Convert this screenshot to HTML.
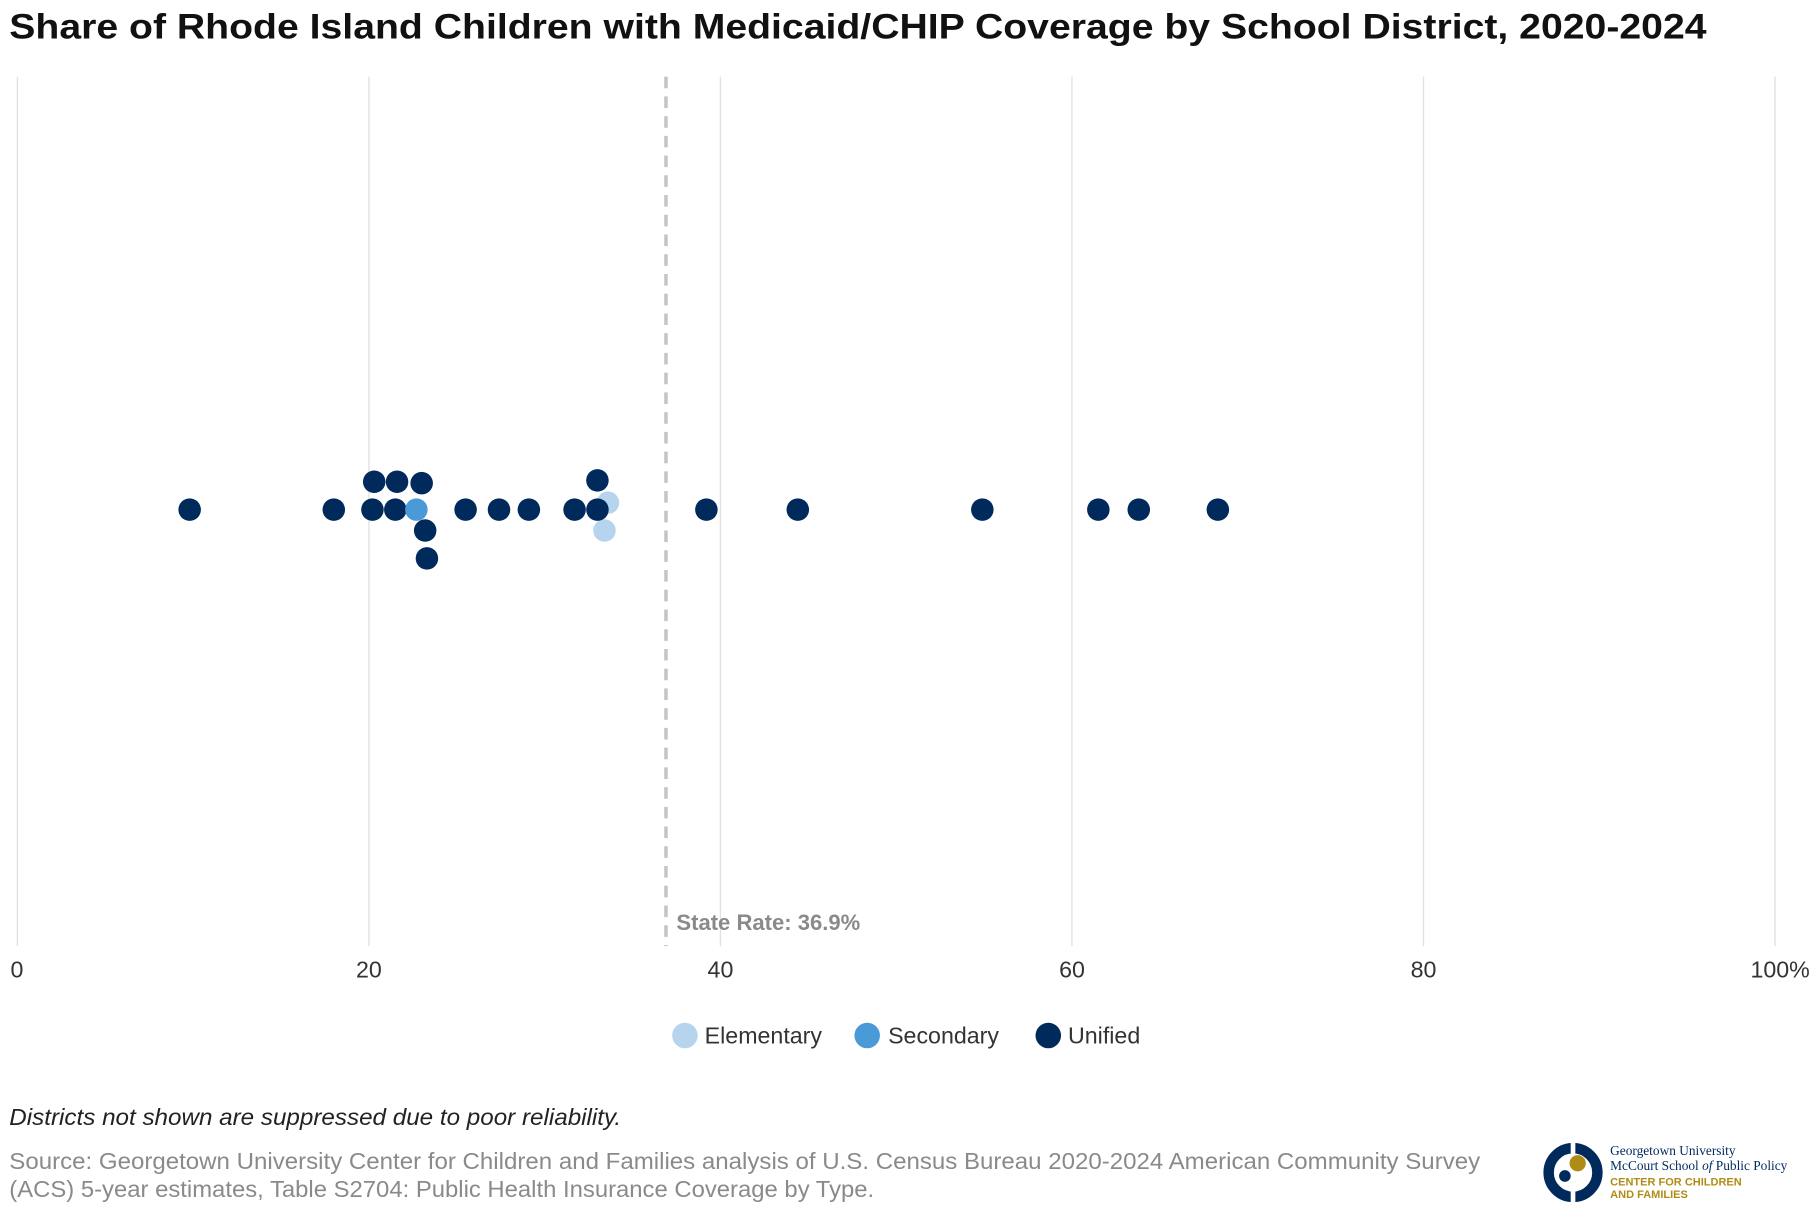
<!DOCTYPE html>
<html><head><meta charset="utf-8"><style>
html,body{margin:0;padding:0;background:#fff;width:1820px;height:1220px;overflow:hidden}
#wrap{position:absolute;left:0;top:0;width:1568px;height:1051px;transform:scale(1.1609);transform-origin:0 0;font-family:"Liberation Sans",sans-serif}
</style></head><body>
<div id="wrap">
<svg width="1568" height="1051" viewBox="0 0 1568 1051" xmlns="http://www.w3.org/2000/svg" id="svg">
<text x="8" y="33" font-size="30" font-weight="bold" fill="#111" font-family="Liberation Sans, sans-serif" textLength="1462" lengthAdjust="spacingAndGlyphs">Share of Rhode Island Children with Medicaid/CHIP Coverage by School District, 2020-2024</text>
<g id="grid"></g>
<g id="ticks"></g>
<g id="dots"></g>
<g font-size="20" fill="#333" font-family="Liberation Sans, sans-serif">
<circle cx="590" cy="892" r="11" fill="#b6d4ee"/>
<text x="607" y="899">Elementary</text>
<circle cx="747" cy="892" r="11" fill="#4b9ad8"/>
<text x="765" y="899">Secondary</text>
<circle cx="903" cy="892" r="11" fill="#002a5c"/>
<text x="920" y="899">Unified</text>
</g>
<text x="8" y="969" font-size="20" font-style="italic" fill="#222" textLength="527" lengthAdjust="spacingAndGlyphs">Districts not shown are suppressed due to poor reliability.</text>
<text x="8" y="1007" font-size="20" fill="#8a8a8a" textLength="1267" lengthAdjust="spacingAndGlyphs">Source: Georgetown University Center for Children and Families analysis of U.S. Census Bureau 2020-2024 American Community Survey</text>
<text x="8" y="1031" font-size="20" fill="#8a8a8a" textLength="745" lengthAdjust="spacingAndGlyphs">(ACS) 5-year estimates, Table S2704: Public Health Insurance Coverage by Type.</text>
<g>
<circle cx="1355" cy="1010" r="21" fill="none" stroke="#002a5c" stroke-width="9"/>
<rect x="1353" y="980" width="4" height="60" fill="#fff"/>
<circle cx="1359" cy="1002" r="7" fill="#b08c16"/>
<circle cx="1348" cy="1013" r="5" fill="#002a5c"/>
<text x="1387" y="995" font-size="11.5" fill="#002a5c" font-family="Liberation Serif, serif">Georgetown University</text>
<text x="1387" y="1008" font-size="11.5" fill="#002a5c" font-family="Liberation Serif, serif">McCourt School <tspan font-style="italic">of</tspan> Public Policy</text>
<text x="1387" y="1021" font-size="9.5" fill="#b08c16" font-weight="bold">CENTER FOR CHILDREN</text>
<text x="1387" y="1032" font-size="9.5" fill="#b08c16" font-weight="bold">AND FAMILIES</text>
</g>
</svg>
</div>
<script>
const ticks=[0,20,40,60,80,100];
const tickLabels=["0","20","40","60","80","100%"];
const stateRate=36.9;
const elementary=[33.6,33.4];
const elementaryLevel=[0.25,-0.75];
const secondary=[22.7];
const secondaryLevel=[0];
const unified=[9.8,18.0,20.2,21.5,25.5,27.4,29.1,31.7,33.0,39.2,44.4,54.9,61.5,63.8,68.3,20.3,21.6,23.0,33.0,23.2,23.3];
const unifiedLevel=[0,0,0,0,0,0,0,0,0,0,0,0,0,0,0,1,1,0.95,1.05,-0.75,-1.75];
const NS="http://www.w3.org/2000/svg";
const x=v=>15+v*15.14;
const y=l=>439-l*24;
const grid=document.getElementById('grid'),tk=document.getElementById('ticks'),dots=document.getElementById('dots');
ticks.forEach((t,i)=>{
 const l=document.createElementNS(NS,'line');
 l.setAttribute('x1',x(t));l.setAttribute('x2',x(t));l.setAttribute('y1',66);l.setAttribute('y2',815);
 l.setAttribute('stroke','#e2e2e2');l.setAttribute('stroke-width','1.2');
 
 
 grid.appendChild(l);
 const tx=document.createElementNS(NS,'text');
 tx.setAttribute('x',i==ticks.length-1?x(t)+30:x(t));tx.setAttribute('y',842);
 tx.setAttribute('text-anchor',i==0?'start':(i==ticks.length-1?'end':'middle'));
 if(i==0)tx.setAttribute('x',x(t)-6);
 tx.setAttribute('font-size','20');tx.setAttribute('fill','#333');
 tx.textContent=tickLabels[i];
 
 
 tk.appendChild(tx);
});
const sl=document.createElementNS(NS,'line');
sl.setAttribute('x1',x(stateRate));sl.setAttribute('x2',x(stateRate));sl.setAttribute('y1',66);sl.setAttribute('y2',815);
sl.setAttribute('stroke','#c4c4c4');sl.setAttribute('stroke-width','3');sl.setAttribute('stroke-dasharray','10,7');


grid.appendChild(sl);
const st=document.createElementNS(NS,'text');
st.setAttribute('x',x(stateRate)+9);st.setAttribute('y',801);st.setAttribute('font-size','19');st.setAttribute('font-weight','bold');st.setAttribute('fill','#8a8a8a');
st.textContent='State Rate: '+stateRate+'%';


grid.appendChild(st);
function draw(vals,lev,col,name){vals.forEach((v,i)=>{
 const c=document.createElementNS(NS,'circle');
 c.setAttribute('cx',x(v));c.setAttribute('cy',y(lev[i]));c.setAttribute('r',9.7);c.setAttribute('fill',col);
 
 
 dots.appendChild(c);});}
draw(elementary,elementaryLevel,'#b6d4ee','elementary-dot');
draw(unified,unifiedLevel,'#002a5c','unified-dot');
draw(secondary,secondaryLevel,'#4b9ad8','secondary-dot');
</script>
</body></html>
